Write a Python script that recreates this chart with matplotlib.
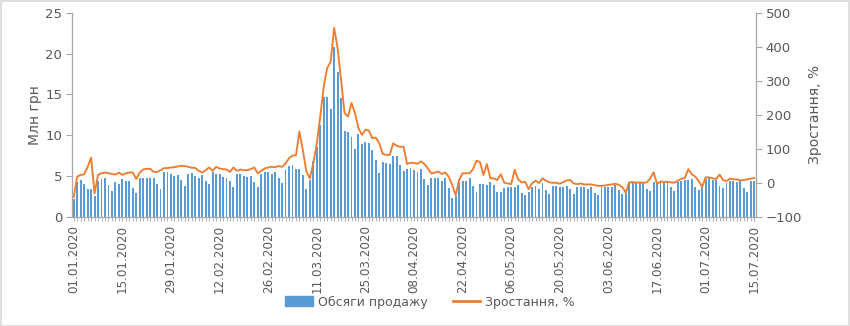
import matplotlib
matplotlib.use("Agg")
import matplotlib.pyplot as plt
from matplotlib.patches import Rectangle, Patch
from matplotlib.lines import Line2D
import pandas as pd
import numpy as np

# ---- data ----
start_date = "2020-01-01"
n_days = 197
label_step = 14

sales = [
    2.2, 4.2, 4.5, 4.0, 3.4, 3.4, 2.5, 4.4, 4.6, 4.7, 3.9, 3.1, 4.3, 4.0, 4.6, 4.4, 4.4, 3.5, 2.9, 4.7,
    4.8, 4.8, 4.7, 4.8, 4.0, 3.4, 5.5, 5.5, 5.2, 5.0, 5.1, 4.5, 3.8,
    5.3, 5.4, 5.0, 4.8, 5.1, 4.4, 4.0, 5.5, 5.2, 5.2, 4.9, 4.8, 4.4, 3.6, 5.3, 5.2, 5.0, 4.9, 5.0, 4.3,
    3.6, 5.2, 5.5, 5.5, 5.3, 5.5, 4.7, 4.1, 5.7, 6.2, 6.4, 5.9,
    5.8, 5.1, 3.4, 4.5, 6.8, 8.6, 11.3, 14.7, 14.7, 13.2, 20.8, 17.8, 14.6, 10.5, 10.4, 9.8, 8.3, 10.1,
    8.9, 9.2, 9.1, 8.2, 6.9, 5.4, 6.7, 6.6, 6.5, 7.5, 7.5, 6.3, 5.6, 5.9, 6.0,
    5.7, 5.5, 5.9, 4.6, 3.9, 4.7, 4.7, 4.8, 4.4, 4.7, 3.5, 2.3, 2.5, 4.1, 4.4, 4.4, 4.8, 3.8, 3.0, 4.0,
    4.0, 3.9, 4.3, 3.9, 3.0, 3.0, 3.5, 3.7, 3.6, 3.6, 3.9, 2.9, 2.7,
    3.0, 3.6, 3.8, 3.4, 4.1, 3.3, 2.8, 3.8, 3.8, 3.6, 3.7, 3.8, 3.4, 2.8, 3.6, 3.7, 3.7, 3.4, 3.6, 2.9,
    2.7, 3.6, 3.6, 3.6, 3.7, 3.9, 3.3, 2.8, 2.9, 4.2, 4.2, 4.1, 4.2,
    4.2, 3.4, 3.2, 4.3, 4.0, 4.4, 4.3, 4.3, 3.6, 3.2, 4.2, 4.4, 4.5, 4.5, 4.6, 3.7, 3.3, 3.7, 4.6, 4.7,
    4.5, 4.5, 3.8, 3.5, 4.1, 4.4, 4.4, 4.2, 4.4, 3.5, 3.0, 4.4, 4.4,
]

growth = [
    -42, 18, 23, 25, 47, 74, -31, 23, 28, 30, 28, 26, 24, 30, 23, 28, 30, 30, 11, 30,
    39, 41, 41, 32, 32, 37, 43, 43, 45, 46, 48, 50, 49,
    47, 44, 44, 35, 30, 37, 45, 35, 47, 42, 40, 39, 32, 45, 35, 39, 37, 37, 40, 45,
    28, 35, 42, 45, 47, 46, 49, 47, 57, 72, 80, 81,
    151, 95, 33, 13, 57, 116, 195, 283, 338, 357, 456, 397, 303, 205, 195, 235, 205, 161,
    141, 156, 154, 131, 133, 116, 85, 82, 82, 116, 109, 106, 106, 55, 59,
    58, 56, 63, 55, 42, 27, 30, 33, 26, 30, 18, -6, -37, 8, 28, 28, 28, 40, 65, 61,
    23, 55, 13, 13, 8, 25, 0, -2, -4, 38, 10, 1, 3,
    -19, -2, 6, -1, 13, 6, 1, 0, 0, -3, 2, 7, 8, -2, -4, -2, -5, -5, -5, -7,
    -9, -9, -8, -6, -5, -3, -6, -13, -29, 1, 2, 0, 1,
    0, 1, 12, 31, -4, 4, 2, 3, 1, 0, 6, 12, 14, 40, 25, 18, 5, -12, 16, 16,
    13, 11, 24, 8, 5, 12, 10, 10, 7, 8, 10, 12, 14,
]

dates = pd.date_range(start_date, periods=n_days, freq="D")
date_labels = [d.strftime("%d.%m.%Y") for d in dates]

left_label = "Млн грн"
right_label = "Зростання, %"
bar_name = "Обсяги продажу"
line_name = "Зростання, %"

# ---- style ----
BLUE = "#5B9BD5"
ORANGE = "#ED7D31"
TXT = "#595959"
AXC = "#A6A6A6"
plt.rcParams["font.family"] = ["DejaVu Sans"]

W, H = 850, 326
fig = plt.figure(figsize=(W / 100, H / 100), dpi=100)
fig.patches.append(Rectangle((0.5 / W, 0.5 / H), 1 - 1.5 / W, 1 - 1.5 / H,
                             transform=fig.transFigure, fill=False,
                             ec="#D9D9D9", lw=1.2))

ax = fig.add_axes([72 / W, 1 - 216.7 / H, 684 / W, 203.7 / H])
x = np.arange(len(sales))
ax.bar(x, sales, width=0.55, color=BLUE, zorder=2)
ax.set_xlim(-0.5, len(sales) - 0.5)
ax.set_ylim(0, 25)
ax.set_yticks(range(0, 26, 5))

ax2 = ax.twinx()
ax2.plot(x, growth, color=ORANGE, lw=1.35, zorder=3, solid_joinstyle="round")
ax2.set_ylim(-100, 500)
ax2.set_yticks(range(-100, 501, 100))

ax.set_xticks(x)
ax.set_xticklabels([lab if i % label_step == 0 else "" for i, lab in enumerate(date_labels)],
                   rotation=90, fontsize=8.6, color=TXT)
ax.tick_params(axis="x", length=3, width=0.6, color=AXC, pad=3)
ax.tick_params(axis="y", length=4, width=0.8, color=AXC, labelsize=9.5, labelcolor=TXT, pad=3)
ax2.tick_params(axis="y", length=4, width=0.8, color=AXC, labelsize=9.5, labelcolor=TXT, pad=3)

for a in (ax, ax2):
    a.spines["top"].set_visible(False)
    for s in ("left", "right", "bottom"):
        a.spines[s].set_color(AXC)
        a.spines[s].set_linewidth(0.9)
ax.spines["right"].set_visible(False)
ax2.spines["left"].set_visible(False)
ax2.spines["bottom"].set_visible(False)

fig.text(35 / W, 1 - 115 / H, left_label, rotation=90, ha="center", va="center",
         fontsize=10, color=TXT)
fig.text(815 / W, 1 - 115 / H, right_label, rotation=90, ha="center", va="center",
         fontsize=10, color=TXT)

handles = [Patch(facecolor=BLUE, edgecolor=BLUE), Line2D([0], [0], color=ORANGE, lw=2)]
fig.legend(handles, [bar_name, line_name], loc="center", bbox_to_anchor=(430 / W, 1 - 302 / H),
           ncol=2, frameon=False, fontsize=9, labelcolor=TXT, handlelength=2.2,
           handleheight=0.8, columnspacing=2.0, handletextpad=0.4)

fig.savefig("out.png", dpi=100)
